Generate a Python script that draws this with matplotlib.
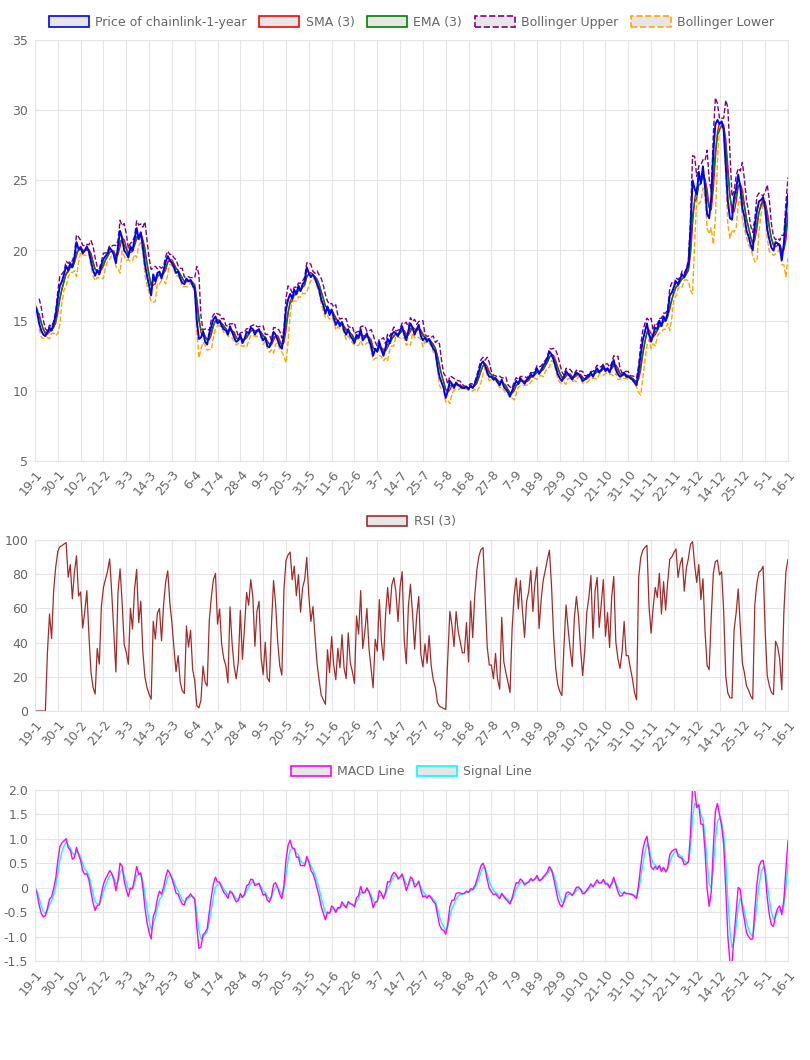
import numpy as np
import matplotlib
matplotlib.use('Agg')
import matplotlib.pyplot as plt
from matplotlib.patches import Patch

# --- daily closing price, 19-1 .. 16-1
price = [
    16.1,15.6,14.8,14.3,14.0,13.9,14.2,14.5,14.3,14.8,15.4,
    16.6,17.5,17.8,18.3,18.9,18.6,19.1,18.8,19.5,20.6,20.1,
    20.2,19.8,20.0,20.3,19.9,19.2,18.6,18.2,18.6,18.3,19.0,
    19.4,19.6,19.8,20.2,20.0,19.7,19.1,20.3,21.4,20.9,20.0,
    19.8,19.5,20.3,20.0,20.8,21.6,20.8,21.3,20.2,19.0,18.2,
    17.5,16.8,18.3,17.8,18.4,18.5,18.0,18.6,19.2,19.6,19.3,
    19.1,18.8,18.4,18.5,18.0,17.7,17.6,18.0,17.8,17.9,17.5,
    17.3,15.0,13.7,13.8,14.2,13.5,13.3,14.1,14.6,15.1,15.3,
    14.8,15.0,14.6,14.4,14.3,14.0,14.6,14.2,13.8,13.5,13.6,
    14.0,13.4,13.7,14.2,14.1,14.5,14.4,14.0,14.3,14.4,13.9,
    13.6,13.8,13.2,13.1,13.5,14.2,14.0,13.6,13.2,13.0,14.1,
    15.8,16.5,16.9,16.6,17.2,16.9,17.5,17.1,17.6,17.8,18.8,
    18.4,18.1,18.3,18.0,17.6,17.2,16.5,16.1,15.5,16.0,15.4,
    15.8,15.2,14.7,15.0,14.6,14.9,14.3,14.0,14.4,13.9,13.7,
    13.4,14.0,13.8,14.4,13.6,13.8,14.1,13.6,13.2,12.5,13.0,
    12.8,13.5,12.9,12.5,13.1,13.7,13.4,14.0,14.2,14.1,13.9,
    14.3,14.6,14.0,13.6,14.3,14.8,14.5,14.0,14.4,14.7,13.9,
    13.6,13.8,13.5,13.7,13.3,13.0,12.8,11.8,11.0,10.6,10.2,
    9.5,10.0,10.7,10.5,10.2,10.6,10.4,10.3,10.2,10.2,10.3,
    10.1,10.4,10.2,10.5,10.9,11.4,11.9,12.1,11.8,11.3,11.0,
    11.0,10.8,10.9,10.6,10.4,10.8,10.3,10.1,9.9,9.6,10.0,
    10.4,10.7,10.5,10.9,10.7,10.5,10.8,10.9,11.2,11.0,11.3,
    11.6,11.2,11.5,11.8,12.0,12.3,12.8,12.6,12.2,11.7,11.2,
    10.9,10.7,11.0,11.4,11.2,11.0,10.8,11.1,11.3,11.2,11.0,
    10.7,10.8,11.0,11.1,11.3,11.0,11.4,11.6,11.3,11.5,11.8,
    11.4,11.6,11.3,11.8,12.2,11.5,11.2,11.0,11.1,11.3,11.0,
    11.0,10.9,10.8,10.6,10.4,11.5,12.6,13.6,14.2,14.8,14.0,
    13.5,14.0,14.5,14.4,15.0,14.6,15.3,15.0,15.6,16.8,17.0,
    17.4,17.8,17.6,18.0,18.3,18.1,18.6,19.0,21.5,25.0,24.4,
    24.0,25.6,24.8,26.0,24.5,22.6,22.3,23.8,27.0,29.0,29.3,
    29.0,29.2,28.6,26.0,23.5,22.3,22.2,23.8,24.4,25.4,24.5,
    23.0,22.4,21.4,21.0,20.4,20.0,21.8,22.8,23.5,23.6,23.8,
    23.0,21.5,20.8,20.2,20.0,20.6,20.5,20.3,19.3,20.5,22.5,24.0,
]
tick_labels = ['19-1','30-1','10-2','21-2','3-3','14-3','25-3','6-4','17-4','28-4',
               '9-5','20-5','31-5','11-6','22-6','3-7','14-7','25-7','5-8','16-8',
               '27-8','7-9','18-9','29-9','10-10','21-10','31-10','11-11','22-11',
               '3-12','14-12','25-12','5-1','16-1']

p = np.array(price)
n = len(p)
x = np.arange(n)

# --- indicators derived from price
def sma(a, k):
    out = np.full(len(a), np.nan)
    for i in range(k - 1, len(a)):
        out[i] = a[i - k + 1:i + 1].mean()
    return out

def ema(a, k, al=None):
    al = 2 / (k + 1) if al is None else al
    out = np.empty(len(a)); out[0] = a[0]
    for i in range(1, len(a)):
        out[i] = al * a[i] + (1 - al) * out[i - 1]
    return out

sma3 = sma(p, 3)
ema3 = ema(p, 3)
std3 = np.full(n, np.nan)
for i in range(2, n):
    std3[i] = p[i - 2:i + 1].std()
bb_up = sma3 + 2 * std3
bb_lo = sma3 - 2 * std3

# RSI(3), Wilder smoothing
d = np.diff(p, prepend=p[0])
gain = ema(np.clip(d, 0, None), 3, al=1 / 3)
loss = ema(np.clip(-d, 0, None), 3, al=1 / 3)
rsi = 100 - 100 / (1 + gain / np.maximum(loss, 1e-9))
rsi[:2] = 0

macd = ema(p, 3) - ema(p, 7)
signal = ema(macd, 3)

# --- Plot
W, H = 810, 1060
fig = plt.figure(figsize=(8.1, 10.6), dpi=100)
txt = '#666666'

def make_ax(left, top, right, bottom):
    return fig.add_axes([left / W, 1 - bottom / H, (right - left) / W, (bottom - top) / H])

def style(ax, ylim, yticks, ylabels=None):
    ax.set_xlim(0, n - 1)
    ax.set_ylim(*ylim)
    ax.set_yticks(yticks)
    if ylabels is not None:
        ax.set_yticklabels(ylabels)
    ticks = np.arange(0, n, 11)
    ax.set_xticks(ticks)
    ax.set_xticklabels(tick_labels[:len(ticks)], rotation=50, ha='right', rotation_mode='anchor')
    ax.grid(True, color='#e5e5e5', lw=0.8)
    for s in ax.spines.values():
        s.set_color('#e5e5e5')
    ax.tick_params(colors=txt, labelsize=9, length=0, pad=5)

def legend(ax, items, y):
    handles = [Patch(facecolor='#e6e6e6', edgecolor=c, ls=ls, lw=1.2, label=l) for l, c, ls in items]
    ax.legend(handles=handles, loc='lower center', bbox_to_anchor=(0.5, y), ncol=len(items),
              frameon=False, fontsize=9, labelcolor=txt, handlelength=3.2, handleheight=0.9,
              columnspacing=1.0, handletextpad=0.5, borderaxespad=0)

ax1 = make_ax(35, 40, 788, 461)
ax1.plot(x, bb_up, '--', color='purple', lw=1)
ax1.plot(x, bb_lo, '--', color='orange', lw=1)
ax1.plot(x, sma3, color='red', lw=1)
ax1.plot(x, ema3, color='green', lw=1)
ax1.plot(x, p, color='blue', lw=1.4)
style(ax1, (5, 35), range(5, 36, 5))
legend(ax1, [('Price of chainlink-1-year', 'blue', '-'), ('SMA (3)', 'red', '-'),
             ('EMA (3)', 'green', '-'), ('Bollinger Upper', 'purple', '--'),
             ('Bollinger Lower', 'orange', '--')], 1.015)

ax2 = make_ax(35, 540, 788, 711)
ax2.plot(x, rsi, color='#a52a2a', lw=0.9)
style(ax2, (0, 100), range(0, 101, 20))
legend(ax2, [('RSI (3)', '#a52a2a', '-')], 1.04)

ax3 = make_ax(35, 790, 788, 961)
ax3.plot(x, signal, color='cyan', lw=1)
ax3.plot(x, macd, color='magenta', lw=1)
mt = [-1.5, -1.0, -0.5, 0, 0.5, 1.0, 1.5, 2.0]
style(ax3, (-1.5, 2.0), mt, ['-1.5', '-1.0', '-0.5', '0', '0.5', '1.0', '1.5', '2.0'])
legend(ax3, [('MACD Line', 'magenta', '-'), ('Signal Line', 'cyan', '-')], 1.04)

fig.savefig('out.png', dpi=100, facecolor='white')
